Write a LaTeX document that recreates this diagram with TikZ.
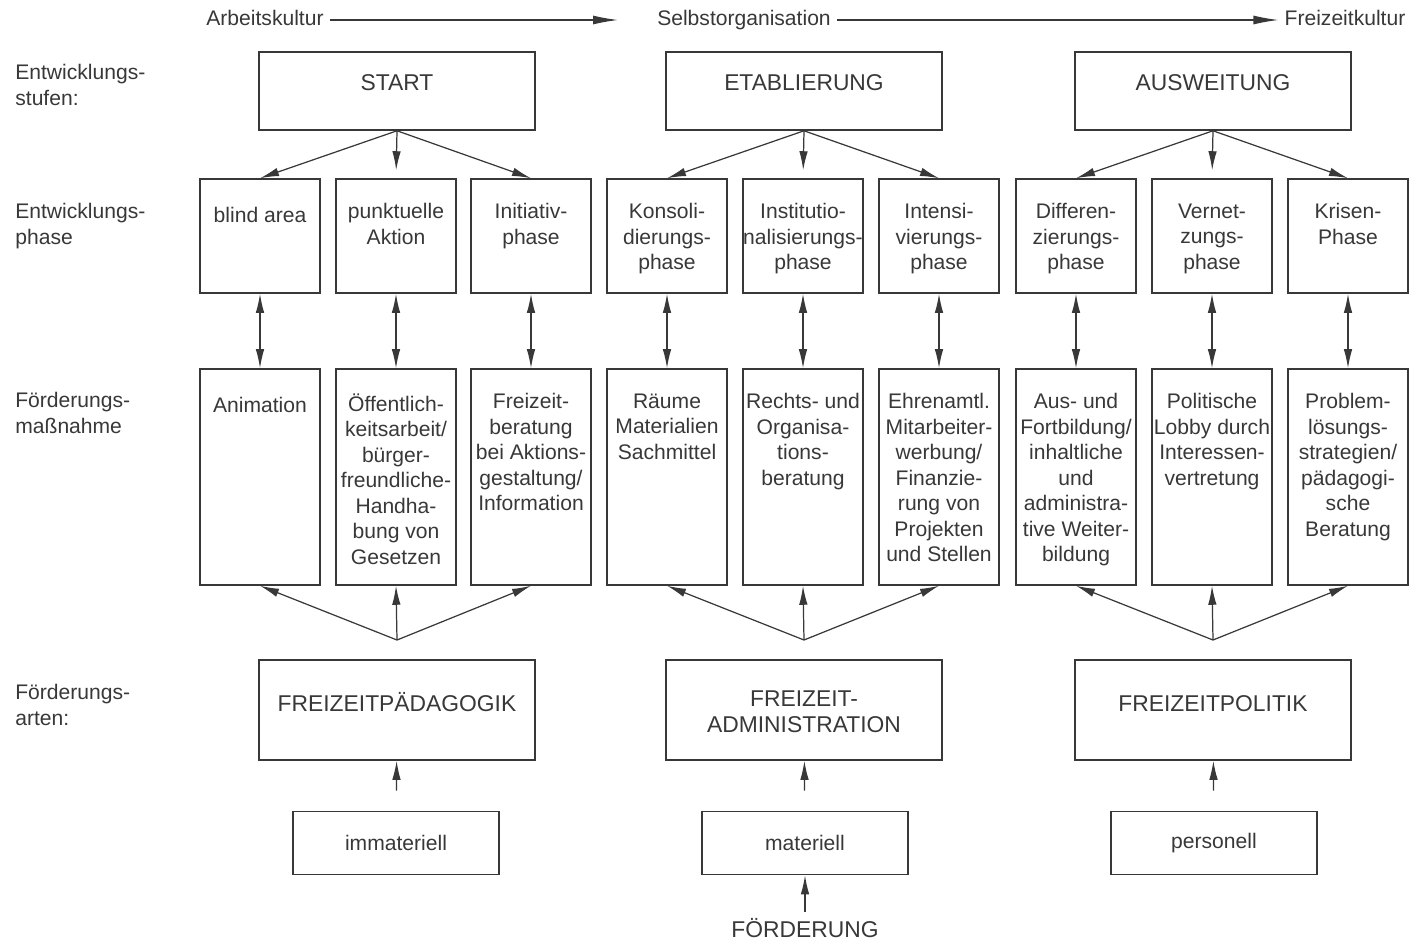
\documentclass[tikz,border=0pt]{standalone}
\usepackage{fontspec}
\setmainfont{Liberation Sans}
\usetikzlibrary{arrows.meta}

\definecolor{ink}{HTML}{383838}

\begin{document}
\begin{tikzpicture}[
    x=0.02cm, y=-0.02cm, color=ink,
    lbl/.style={font=\fontsize{12}{15}\selectfont, align=left, anchor=north west, inner sep=0pt, execute at begin node=\rule{0pt}{11pt}},
    toptext/.style={font=\fontsize{12}{14.5}\selectfont, text height=9pt, text depth=3pt},
    stufe/.style={rectangle, draw, line width=0.9pt, minimum width=5.52cm, minimum height=1.56cm,
        label={[anchor=north, yshift=-0.36cm, inner sep=0pt, align=center, font=\fontsize{13}{15}\selectfont, execute at begin node=\rule{0pt}{12pt}]north:#1}},
    phase/.style={rectangle, draw, line width=0.9pt, minimum width=2.4cm, minimum height=2.28cm,
        label={[anchor=north, yshift=-0.5cm, inner sep=0pt, align=center, font=\fontsize{12}{14.5}\selectfont, execute at begin node=\rule{0pt}{11pt}]north:#1}},
    massn/.style={phase=#1, minimum height=4.32cm},
    art/.style={rectangle, draw, line width=0.9pt, minimum width=5.52cm, minimum height=2cm,
        label={[anchor=north, yshift=-0.62cm, inner sep=0pt, align=center, font=\fontsize{13}{14.8}\selectfont, execute at begin node=\rule{0pt}{12pt}]north:#1}},
    mittel/.style={rectangle, draw, line width=0.9pt, minimum width=4.12cm, minimum height=1.26cm, font=\fontsize{12}{14.5}\selectfont},
    arrow/.style={-{Latex[length=0.38cm, width=0.17cm]}, line width=0.7pt},
    dblarrow/.style={{Latex[length=0.38cm, width=0.17cm]}-{Latex[length=0.38cm, width=0.17cm]}, line width=0.7pt},
    axis/.style={-{Latex[length=0.5cm, width=0.18cm]}, line width=0.7pt},
]
\useasboundingbox (0,0) rectangle (1414,940);

% Achse oben
\node[toptext] (ak) at (265,20) {Arbeitskultur};
\node[toptext] (so) at (744,20) {Selbstorganisation};
\node[toptext] (fk) at (1345,20) {Freizeitkultur};
\draw[axis, shorten >=0.66cm] (ak) -- (so);
\draw[axis] (so) -- (fk);

% Zeilenbeschriftung
\node[lbl] (l1) at (15,64) {Entwicklungs-\\stufen:};
\node[lbl] (l2) at (15,203) {Entwicklungs-\\phase};
\node[lbl] (l3) at (15,392) {Förderungs-\\maßnahme};
\node[lbl] (l4) at (15,684) {Förderungs-\\arten:};

% Entwicklungsstufen
\node[stufe=START] (s1) at (397,91) {};
\node[stufe=ETABLIERUNG] (s2) at (804,91) {};
\node[stufe=AUSWEITUNG] (s3) at (1213,91) {};

% Entwicklungsphasen
\node[phase={blind area}] (p1) at (260,236) {};
\node[phase={punktuelle\\Aktion}] (p2) at (396,236) {};
\node[phase={Initiativ-\\phase}] (p3) at (531,236) {};
\node[phase={Konsoli-\\dierungs-\\phase}] (p4) at (667,236) {};
\node[phase={Institutio-\\nalisierungs-\\phase}] (p5) at (803,236) {};
\node[phase={Intensi-\\vierungs-\\phase}] (p6) at (939,236) {};
\node[phase={Differen-\\zierungs-\\phase}] (p7) at (1076,236) {};
\node[phase={Vernet-\\zungs-\\phase}] (p8) at (1212,236) {};
\node[phase={Krisen-\\Phase}] (p9) at (1348,236) {};

% Foerderungsmassnahmen
\node[massn={Animation}] (m1) at (260,477) {};
\node[massn={Öffentlich-\\keitsarbeit/\\bürger-\\freundliche-\\Handha-\\bung von\\Gesetzen}] (m2) at (396,477) {};
\node[massn={Freizeit-\\beratung\\bei Aktions-\\gestaltung/\\Information}] (m3) at (531,477) {};
\node[massn={Räume\\Materialien\\Sachmittel}] (m4) at (667,477) {};
\node[massn={Rechts- und\\Organisa-\\tions-\\beratung}] (m5) at (803,477) {};
\node[massn={Ehrenamtl.\\Mitarbeiter-\\werbung/\\Finanzie-\\rung von\\Projekten\\und Stellen}] (m6) at (939,477) {};
\node[massn={Aus- und\\Fortbildung/\\inhaltliche\\und\\administra-\\tive Weiter-\\bildung}] (m7) at (1076,477) {};
\node[massn={Politische\\Lobby durch\\Interessen-\\vertretung}] (m8) at (1212,477) {};
\node[massn={Problem-\\lösungs-\\strategien/\\pädagogi-\\sche\\Beratung}] (m9) at (1348,477) {};

% Foerderungsarten
\node[art=FREIZEITPÄDAGOGIK] (a1) at (397,710) {};
\node[art={FREIZEIT-\\ADMINISTRATION}] (a2) at (804,710) {};
\node[art=FREIZEITPOLITIK] (a3) at (1213,710) {};
\coordinate (f1) at (397,640);
\coordinate (f2) at (804,640);
\coordinate (f3) at (1213,640);

\node[mittel] (r1) at (396,843) {immateriell};
\node[mittel] (r2) at (805,843) {materiell};
\node[mittel] (r3) at (1214,843) {personell};
\node[font=\fontsize{13}{15}\selectfont] (fo) at (805,928) {FÖRDERUNG};

% Pfeile
\draw[arrow] (s1.south) -- (p1.north);
\draw[arrow, shorten >=0.16cm] (s1.south) -- (p2.north);
\draw[arrow] (s1.south) -- (p3.north);
\draw[arrow] (s2.south) -- (p4.north);
\draw[arrow, shorten >=0.16cm] (s2.south) -- (p5.north);
\draw[arrow] (s2.south) -- (p6.north);
\draw[arrow] (s3.south) -- (p7.north);
\draw[arrow, shorten >=0.16cm] (s3.south) -- (p8.north);
\draw[arrow] (s3.south) -- (p9.north);

\foreach \i in {1,...,9}
    \draw[dblarrow] (p\i) -- (m\i);

\draw[arrow] (f1) -- (m1.south);
\draw[arrow] (f1) -- (m2.south);
\draw[arrow] (f1) -- (m3.south);
\draw[arrow] (f2) -- (m4.south);
\draw[arrow] (f2) -- (m5.south);
\draw[arrow] (f2) -- (m6.south);
\draw[arrow] (f3) -- (m7.south);
\draw[arrow] (f3) -- (m8.south);
\draw[arrow] (f3) -- (m9.south);

\draw[arrow, shorten <=0.4cm] (r1) -- (a1);
\draw[arrow, shorten <=0.4cm] (r2) -- (a2);
\draw[arrow, shorten <=0.4cm] (r3) -- (a3);
\draw[arrow] (fo) -- (r2);
\end{tikzpicture}
\end{document}
